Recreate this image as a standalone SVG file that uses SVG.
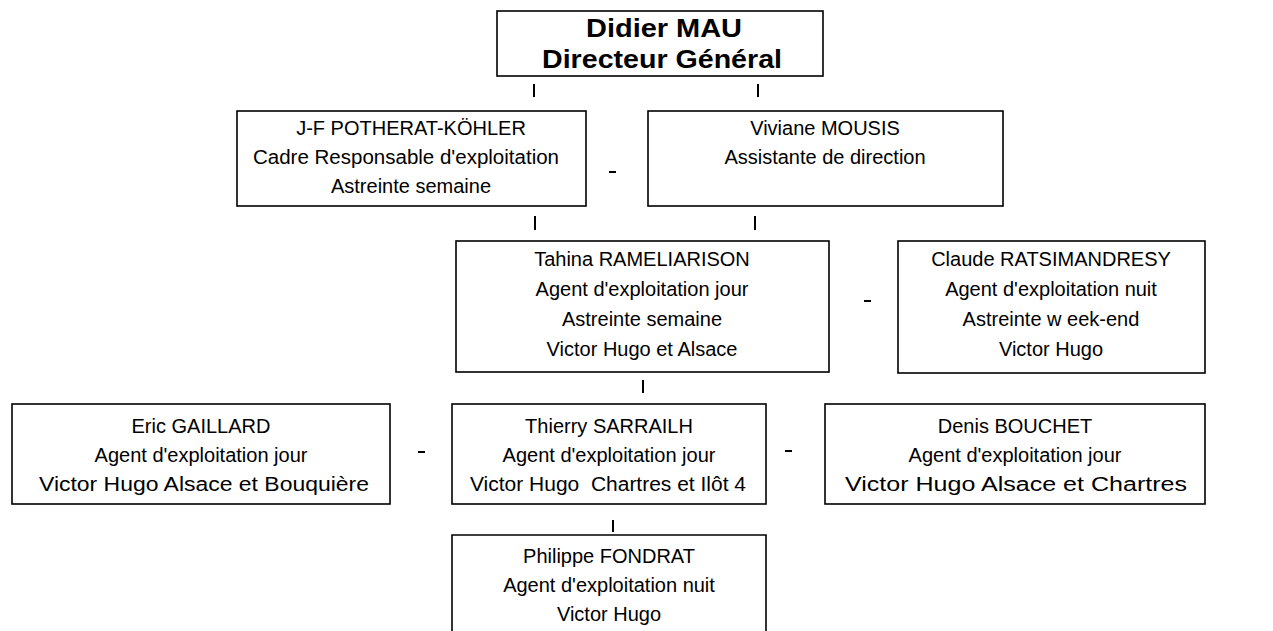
<svg xmlns="http://www.w3.org/2000/svg" width="1273" height="631" viewBox="0 0 1273 631">
<style>
.box{fill:#fff;stroke:#000;stroke-width:1.6}
.t{font-family:"Liberation Sans",Arial,sans-serif;font-size:20px;fill:#000;text-anchor:middle}
.b{font-family:"Liberation Sans",Arial,sans-serif;font-size:25px;font-weight:bold;fill:#000;text-anchor:middle}
.c{stroke:#000;stroke-width:2;fill:none}
</style>
<rect width="1273" height="631" fill="#fff"/>
<g id="connectors">
<line class="c" x1="534" y1="84" x2="534" y2="97"/>
<line class="c" x1="758" y1="84" x2="758" y2="97"/>
<line class="c" x1="609" y1="172" x2="616" y2="172"/>
<line class="c" x1="535" y1="216" x2="535" y2="230"/>
<line class="c" x1="755" y1="216" x2="755" y2="230"/>
<line class="c" x1="864" y1="301" x2="871" y2="301"/>
<line class="c" x1="643" y1="380" x2="643" y2="393"/>
<line class="c" x1="418" y1="452" x2="425" y2="452"/>
<line class="c" x1="785" y1="451" x2="792" y2="451"/>
<line class="c" x1="613" y1="520" x2="613" y2="532"/>
</g>
<g id="n-mau">
<rect class="box" x="497" y="11" width="326" height="65"/>
<text class="b" x="664" y="37" textLength="156" lengthAdjust="spacingAndGlyphs">Didier MAU</text>
<text class="b" x="662" y="68" textLength="240" lengthAdjust="spacingAndGlyphs">Directeur Général</text>
</g>
<g id="n-potherat">
<rect class="box" x="237" y="111" width="349" height="95"/>
<text class="t" x="411" y="135">J-F POTHERAT-KÖHLER</text>
<text class="t" x="406" y="164" textLength="306" lengthAdjust="spacingAndGlyphs">Cadre Responsable d'exploitation</text>
<text class="t" x="411" y="193">Astreinte semaine</text>
</g>
<g id="n-mousis">
<rect class="box" x="648" y="111" width="355" height="95"/>
<text class="t" x="825" y="135">Viviane MOUSIS</text>
<text class="t" x="825" y="164">Assistante de direction</text>
</g>
<g id="n-rameliarison">
<rect class="box" x="456" y="241" width="373" height="131"/>
<text class="t" x="642" y="266">Tahina RAMELIARISON</text>
<text class="t" x="642" y="296">Agent d'exploitation jour</text>
<text class="t" x="642" y="326">Astreinte semaine</text>
<text class="t" x="642" y="356">Victor Hugo et Alsace</text>
</g>
<g id="n-ratsimandresy">
<rect class="box" x="898" y="241" width="307" height="132"/>
<text class="t" x="1051" y="266">Claude RATSIMANDRESY</text>
<text class="t" x="1051" y="296">Agent d'exploitation nuit</text>
<text class="t" x="1051" y="326">Astreinte w eek-end</text>
<text class="t" x="1051" y="356">Victor Hugo</text>
</g>
<g id="n-gaillard">
<rect class="box" x="12" y="404" width="378" height="100"/>
<text class="t" x="201" y="433">Eric GAILLARD</text>
<text class="t" x="201" y="462">Agent d'exploitation jour</text>
<text class="t" x="204" y="491" textLength="330" lengthAdjust="spacingAndGlyphs">Victor Hugo Alsace et Bouquière</text>
</g>
<g id="n-sarrailh">
<rect class="box" x="452" y="404" width="314" height="100"/>
<text class="t" x="609" y="433">Thierry SARRAILH</text>
<text class="t" x="609" y="462">Agent d'exploitation jour</text>
<text class="t" x="608" y="491" xml:space="preserve" textLength="276" lengthAdjust="spacingAndGlyphs">Victor Hugo  Chartres et Ilôt 4</text>
</g>
<g id="n-bouchet">
<rect class="box" x="825" y="404" width="380" height="100"/>
<text class="t" x="1015" y="433">Denis BOUCHET</text>
<text class="t" x="1015" y="462">Agent d'exploitation jour</text>
<text class="t" x="1016" y="491" textLength="342" lengthAdjust="spacingAndGlyphs">Victor Hugo Alsace et Chartres</text>
</g>
<g id="n-fondrat">
<path class="box" d="M452,640 V535 H766 V640"/>
<text class="t" x="609" y="563">Philippe FONDRAT</text>
<text class="t" x="609" y="592">Agent d'exploitation nuit</text>
<text class="t" x="609" y="621">Victor Hugo</text>
</g>
</svg>
